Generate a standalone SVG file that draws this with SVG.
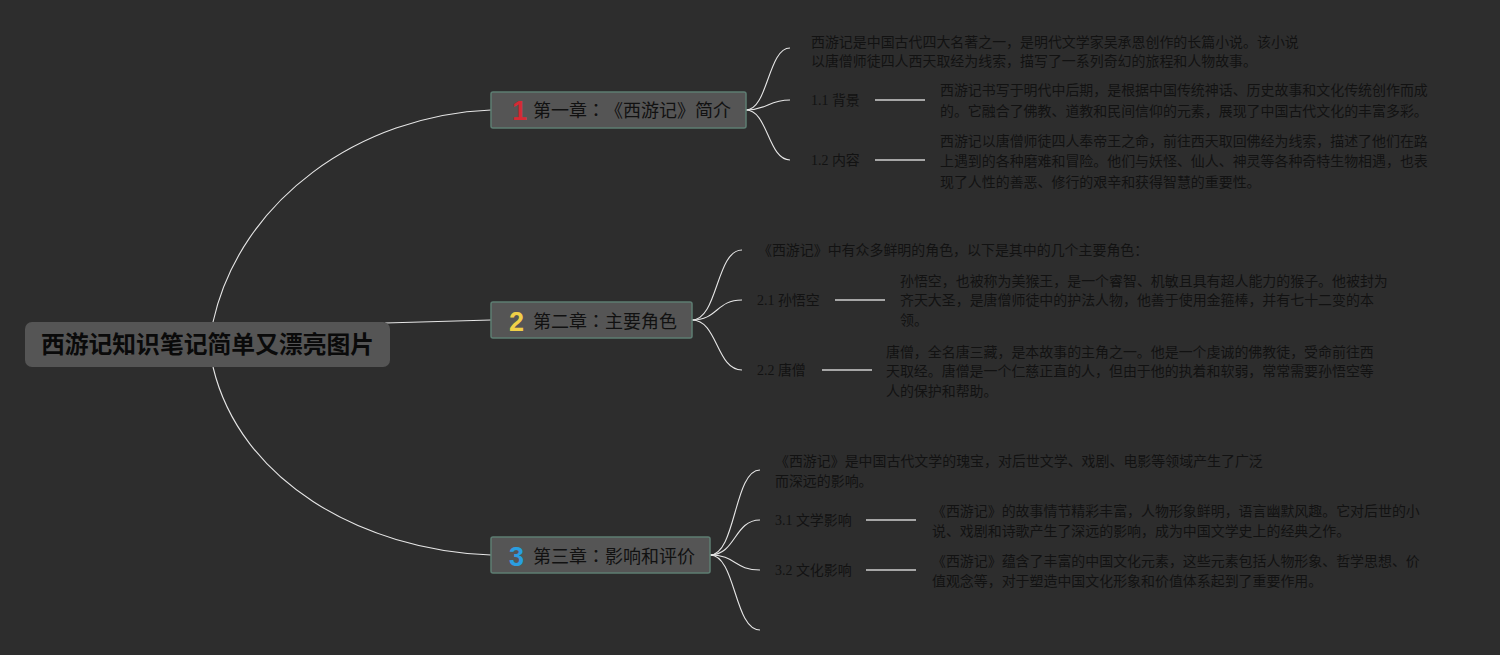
<svg xmlns="http://www.w3.org/2000/svg" width="1500" height="655" viewBox="0 0 1500 655">
<style>
.bg{fill:#2d2d2d}
.root{fill:#555555}
.rt{font-family:"Noto Sans CJK SC","Liberation Sans",sans-serif;font-size:23.8px;font-weight:bold;fill:#0a0a0a}
.ch{fill:#555555;stroke:#5d7d72;stroke-width:1.5}
.ct{font-family:"Noto Sans CJK SC","Liberation Sans",sans-serif;font-size:18px;fill:#111;text-spacing-trim:space-all}
.cl{font-family:"Noto Sans CJK TC","Noto Sans CJK SC",sans-serif}
.num{font-family:"Liberation Sans","Noto Sans",sans-serif;font-size:27px;font-weight:bold}
.t{font-family:"Liberation Serif","Noto Sans CJK SC",serif;font-size:13.95px;fill:#121212;text-spacing-trim:space-all}
.c{fill:none;stroke:#e6e6e6;stroke-width:1.1}
.h{fill:none;stroke:#cfcfcf;stroke-width:1.6}
</style>
<rect class="bg" x="0" y="0" width="1500" height="655"/>
<g id="connectors">
<path class="c" d="M213,322 C240,200 360,115 491,110"/>
<path class="c" d="M385,323 L491,320"/>
<path class="c" d="M213,367 C240,480 360,550 491,555"/>
<path class="c" d="M746,110 C768,110 768,48 790,48"/>
<path class="c" d="M746,110 C768,110 768,100 790,100"/>
<path class="c" d="M746,110 C768,110 768,160 790,160"/>
<path class="h" d="M875,100 H925"/>
<path class="h" d="M875,160 H925"/>
<path class="c" d="M692,320 C718,320 716,250 742,250"/>
<path class="c" d="M692,320 C718,320 716,300 742,300"/>
<path class="c" d="M692,320 C718,320 716,370 742,370"/>
<path class="h" d="M835,300 H885"/>
<path class="h" d="M822,370 H872"/>
<path class="c" d="M710,555 C736,555 734,470 760,470"/>
<path class="c" d="M710,555 C736,555 734,520 760,520"/>
<path class="c" d="M710,555 C736,555 734,570 760,570"/>
<path class="c" d="M710,555 C736,555 734,630 760,630"/>
<path class="h" d="M866,520 H916"/>
<path class="h" d="M866,570 H916"/>
</g>
<g id="root">
<rect class="root" x="25" y="322" width="365" height="45" rx="7"/>
<text class="rt" x="207.5" y="353" text-anchor="middle">西游记知识笔记简单又漂亮图片</text>
</g>
<g id="ch1">
<rect class="ch" x="491" y="92" width="255" height="36" rx="2"/>
<text class="num" x="512" y="120" fill="#d42a34">1</text>
<text class="ct" x="533" y="117">第一章<tspan class="cl">：《</tspan>西游记》简介</text>
</g>
<g id="ch1-intro">
<text class="t" x="811" y="47">西游记是中国古代四大名著之一，是明代文学家吴承恩创作的长篇小说。该小说</text>
<text class="t" x="811" y="66">以唐僧师徒四人西天取经为线索，描写了一系列奇幻的旅程和人物故事。</text>
</g>
<g id="ch1-1">
<text class="t" x="811" y="105">1.1 背景</text>
<text class="t" x="940" y="95">西游记书写于明代中后期，是根据中国传统神话、历史故事和文化传统创作而成</text>
<text class="t" x="940" y="116">的。它融合了佛教、道教和民间信仰的元素，展现了中国古代文化的丰富多彩。</text>
</g>
<g id="ch1-2">
<text class="t" x="811" y="165">1.2 内容</text>
<text class="t" x="940" y="146">西游记以唐僧师徒四人奉帝王之命，前往西天取回佛经为线索，描述了他们在路</text>
<text class="t" x="940" y="166">上遇到的各种磨难和冒险。他们与妖怪、仙人、神灵等各种奇特生物相遇，也表</text>
<text class="t" x="940" y="187">现了人性的善恶、修行的艰辛和获得智慧的重要性。</text>
</g>
<g id="ch2">
<rect class="ch" x="491" y="302" width="201" height="36" rx="2"/>
<text class="num" x="509" y="331" fill="#f0d048">2</text>
<text class="ct" x="533" y="328">第二章<tspan class="cl">：</tspan>主要角色</text>
</g>
<g id="ch2-intro">
<text class="t" x="758" y="255">《西游记》中有众多鲜明的角色，以下是其中的几个主要角色：</text>
</g>
<g id="ch2-1">
<text class="t" x="757" y="305">2.1 孙悟空</text>
<text class="t" x="900" y="286">孙悟空，也被称为美猴王，是一个睿智、机敏且具有超人能力的猴子。他被封为</text>
<text class="t" x="900" y="305">齐天大圣，是唐僧师徒中的护法人物，他善于使用金箍棒，并有七十二变的本</text>
<text class="t" x="900" y="325">领。</text>
</g>
<g id="ch2-2">
<text class="t" x="757" y="375">2.2 唐僧</text>
<text class="t" x="886" y="357">唐僧，全名唐三藏，是本故事的主角之一。他是一个虔诚的佛教徒，受命前往西</text>
<text class="t" x="886" y="376">天取经。唐僧是一个仁慈正直的人，但由于他的执着和软弱，常常需要孙悟空等</text>
<text class="t" x="886" y="396">人的保护和帮助。</text>
</g>
<g id="ch3">
<rect class="ch" x="491" y="537" width="219" height="36" rx="2"/>
<text class="num" x="509" y="566" fill="#2a9ee0">3</text>
<text class="ct" x="533" y="563">第三章<tspan class="cl">：</tspan>影响和评价</text>
</g>
<g id="ch3-intro">
<text class="t" x="775" y="466">《西游记》是中国古代文学的瑰宝，对后世文学、戏剧、电影等领域产生了广泛</text>
<text class="t" x="775" y="486">而深远的影响。</text>
</g>
<g id="ch3-1">
<text class="t" x="775" y="525">3.1 文学影响</text>
<text class="t" x="932" y="516">《西游记》的故事情节精彩丰富，人物形象鲜明，语言幽默风趣。它对后世的小</text>
<text class="t" x="932" y="536">说、戏剧和诗歌产生了深远的影响，成为中国文学史上的经典之作。</text>
</g>
<g id="ch3-2">
<text class="t" x="775" y="575">3.2 文化影响</text>
<text class="t" x="932" y="566">《西游记》蕴含了丰富的中国文化元素，这些元素包括人物形象、哲学思想、价</text>
<text class="t" x="932" y="586">值观念等，对于塑造中国文化形象和价值体系起到了重要作用。</text>
</g>
</svg>
